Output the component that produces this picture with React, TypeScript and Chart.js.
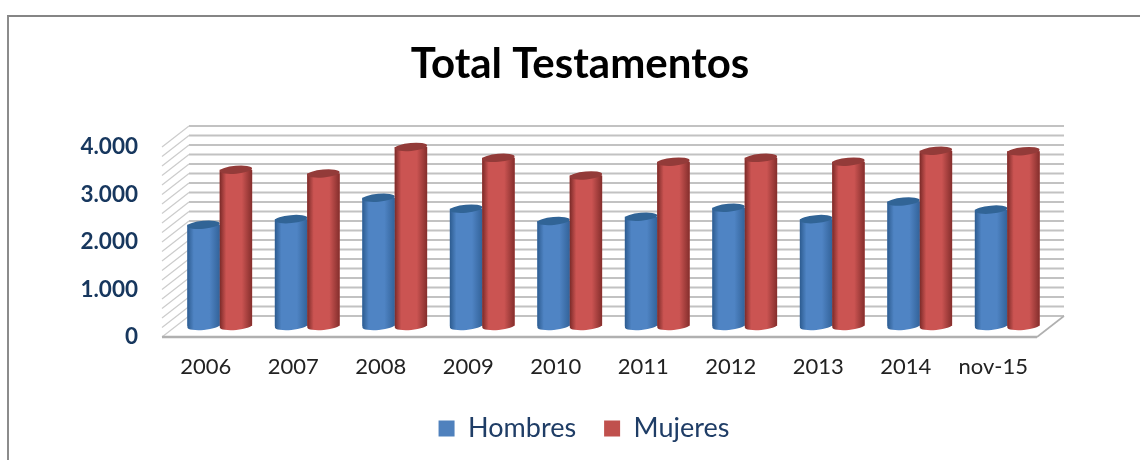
import React, { useEffect, useRef } from "react";
import { Chart, registerables } from "chart.js";

Chart.register(...registerables);

const categories = ["2006", "2007", "2008", "2009", "2010", "2011", "2012", "2013", "2014", "nov-15"];
const hombres = [2130, 2250, 2700, 2470, 2210, 2300, 2490, 2250, 2620, 2450];
const mujeres = [3290, 3210, 3770, 3540, 3170, 3460, 3540, 3460, 3690, 3680];

const FONT = "Lato, Carlito, sans-serif";
const WALL_DX = 27;
const WALL_DY = -21;
const BAR_DX = 14;
const BAR_DY = -11;
const GRID = "#c2c2c2";

const cylinderShades: Record<string, { edge: string; mid: string; right: string; cap: string }> = {
  Hombres: { edge: "#2d5c90", mid: "#4f84c4", right: "#33639a", cap: "#316496" },
  Mujeres: { edge: "#7b2a28", mid: "#cb5452", right: "#842e2c", cap: "#933b39" },
};

const walls = {
  id: "walls",
  beforeDatasetsDraw(chart: any) {
    const { ctx, chartArea, scales } = chart;
    const y = scales.y;
    const { left, right, bottom } = chartArea;
    ctx.save();
    for (const tick of y.ticks) {
      const py = y.getPixelForValue(tick.value);
      ctx.strokeStyle = GRID;
      ctx.lineWidth = 2;
      ctx.beginPath();
      ctx.moveTo(left + WALL_DX, py + WALL_DY);
      ctx.lineTo(right + WALL_DX, py + WALL_DY);
      ctx.stroke();
      ctx.lineWidth = 1.2;
      ctx.strokeStyle = "#cccccc";
      ctx.beginPath();
      ctx.moveTo(left, py);
      ctx.lineTo(left + WALL_DX, py + WALL_DY);
      ctx.stroke();
    }
    ctx.strokeStyle = "#b0b0b0";
    ctx.lineWidth = 1.6;
    ctx.beginPath();
    ctx.moveTo(right, bottom);
    ctx.lineTo(right + WALL_DX, bottom + WALL_DY);
    ctx.stroke();
    ctx.lineWidth = 2.4;
    ctx.beginPath();
    ctx.moveTo(left, bottom);
    ctx.lineTo(right, bottom);
    ctx.stroke();
    ctx.restore();
  },
  beforeDatasetDraw(chart: any) {
    chart.ctx.save();
    chart.ctx.translate(BAR_DX, BAR_DY);
  },
  afterDatasetDraw(chart: any) {
    chart.ctx.restore();
  },
  afterDatasetsDraw(chart: any) {
    const { ctx } = chart;
    ctx.save();
    ctx.translate(BAR_DX, BAR_DY);
    chart.data.datasets.forEach((ds: any, i: number) => {
      const shade = cylinderShades[ds.label];
      for (const el of chart.getDatasetMeta(i).data) {
        const { x, y, base, width } = el.getProps(["x", "y", "base", "width"], true);
        const l = x - width / 2;
        const r = x + width / 2;
        const g = ctx.createLinearGradient(l, 0, r, 0);
        g.addColorStop(0, shade.edge);
        g.addColorStop(0.2, shade.mid);
        g.addColorStop(0.68, shade.mid);
        g.addColorStop(1, shade.right);
        ctx.fillStyle = g;
        ctx.beginPath();
        ctx.moveTo(l, y);
        ctx.lineTo(l, base);
        ctx.ellipse(x, base, width / 2, 4, -0.09, Math.PI, 0, true);
        ctx.lineTo(r, y);
        ctx.closePath();
        ctx.fill();
        ctx.fillStyle = shade.cap;
        ctx.beginPath();
        ctx.ellipse(x, y, width / 2, 4, -0.09, 0, Math.PI * 2);
        ctx.fill();
      }
    });
    ctx.restore();
  },
  afterLayout(chart: any) {
    const t = chart.titleBlock;
    if (t) {
      t.left = 380;
      t.right = 780;
    }
    const lg = chart.legend;
    if (lg) {
      const w = lg.right - lg.left;
      lg.left = 584 - w / 2;
      lg.right = 584 + w / 2;
      lg.top += 10;
      lg.bottom += 10;
    }
  },
};

export default function App() {
  const ref = useRef<HTMLCanvasElement>(null);
  useEffect(() => {
    const chart = new Chart(ref.current as HTMLCanvasElement, {
      type: "bar",
      data: {
        labels: categories,
        datasets: [
          { label: "Hombres", data: hombres, backgroundColor: "#4f81bd", barPercentage: 1, categoryPercentage: 0.74 },
          { label: "Mujeres", data: mujeres, backgroundColor: "#c0504d", barPercentage: 1, categoryPercentage: 0.74 },
        ],
      },
      options: {
        animation: false,
        responsive: false,
        layout: { padding: { left: 0, right: 103, top: 0, bottom: 18 } },
        plugins: {
          tooltip: { enabled: false },
          title: {
            display: true,
            text: "Total Testamentos",
            color: "#000000",
            font: { family: FONT, size: 42, weight: "bold", lineHeight: 1.2 },
            padding: { top: 39, bottom: 57.6 },
          },
          legend: {
            position: "bottom",
            labels: {
              boxWidth: 16,
              boxHeight: 16,
              padding: 28,
              color: "#1f3d66",
              font: { family: FONT, size: 27 },
            },
          },
        },
        scales: {
          x: {
            grid: { display: false },
            border: { display: false },
            afterFit: (s: any) => { s.height = 40; },
            ticks: { color: "#222222", padding: 9, maxRotation: 0, font: { family: FONT, size: 22 } },
          },
          y: {
            min: 0,
            max: 4000,
            grid: { display: false, drawTicks: false },
            border: { display: false },
            afterFit: (s: any) => { s.width = 162; },
            ticks: {
              stepSize: 200,
              autoSkip: false,
              padding: 24,
              color: "#17375e",
              font: { family: FONT, size: 22.5, weight: "bold" },
              callback: (v: any) => (v % 1000 === 0 ? (v === 0 ? "0" : `${v / 1000}.000`) : ""),
            },
          },
        },
      },
      plugins: [walls],
    } as any);
    return () => chart.destroy();
  }, []);
  return (
    <div style={{ position: "fixed", left: 0, top: 0, width: 1140, height: 460, background: "#fff", overflow: "hidden" }}>
      <div style={{ position: "absolute", left: 7, top: 15, width: 1200, height: 500, borderLeft: "2px solid #8c8c8c", borderTop: "2px solid #858585" }} />
      <canvas ref={ref} width={1140} height={460} style={{ position: "absolute", left: 0, top: 0, display: "block" }} />
    </div>
  );
}
